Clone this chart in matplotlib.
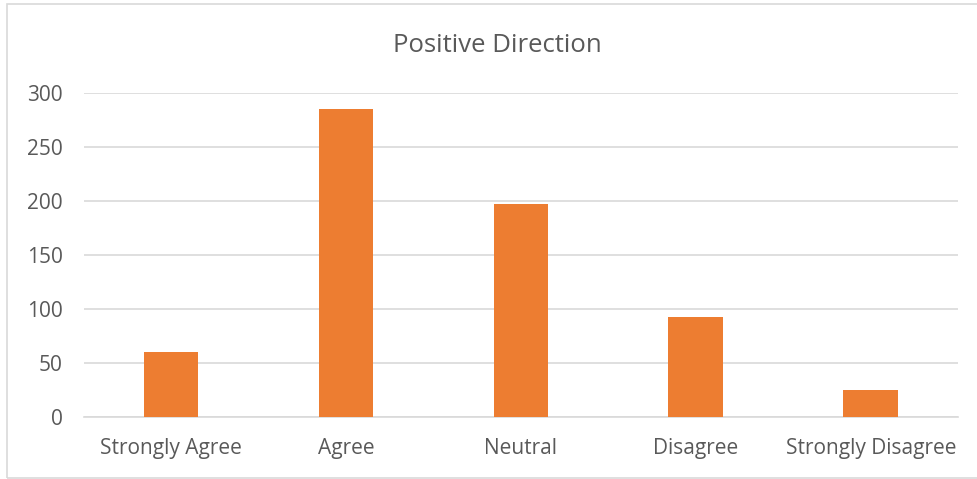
import matplotlib
matplotlib.use("Agg")
import matplotlib.pyplot as plt
from matplotlib.patches import Rectangle

categories = ["Strongly Agree", "Agree", "Neutral", "Disagree", "Strongly Disagree"]
counts = [60, 285, 197, 93, 25]
y_ticks = [0, 50, 100, 150, 200, 250, 300]

plt.rcParams["font.family"] = ["Open Sans", "DejaVu Sans"]
text_color = "#595959"
bar_color = "#ED7D31"
grid_color = "#D9D9D9"

fig = plt.figure(figsize=(9.78, 4.79), dpi=100)
ax = fig.add_axes([0.0854, 0.1294, 0.8946, 0.6764])

x = list(range(len(categories)))
ax.bar(x, counts, width=0.314, color=bar_color, zorder=3)

ax.set_xlim(-0.5, len(categories) - 0.5)
ax.set_ylim(0, 300)
ax.set_yticks(y_ticks)
ax.set_xticks(x)
ax.set_xticklabels(categories)
ax.yaxis.grid(True, color=grid_color, linewidth=1.2, zorder=0)
for s in ["top", "right", "left"]:
    ax.spines[s].set_visible(False)
ax.spines["bottom"].set_color(grid_color)
ax.spines["bottom"].set_linewidth(1.2)
ax.tick_params(axis="both", length=0, labelsize=15, colors=text_color)
ax.tick_params(axis="x", pad=15)
ax.tick_params(axis="y", pad=15)

fig.text(0.5085, 1 - 46 / 479, "Positive Direction", ha="center", va="center",
         fontsize=18.5, color=text_color)

# outer chart frame
fig.patches.append(Rectangle((7 / 978, 1.5 / 479), 1.2, 1 - 5 / 479,
                             transform=fig.transFigure, fill=False,
                             edgecolor=grid_color, linewidth=1.2))

fig.savefig("out.png", dpi=100, facecolor="white")
